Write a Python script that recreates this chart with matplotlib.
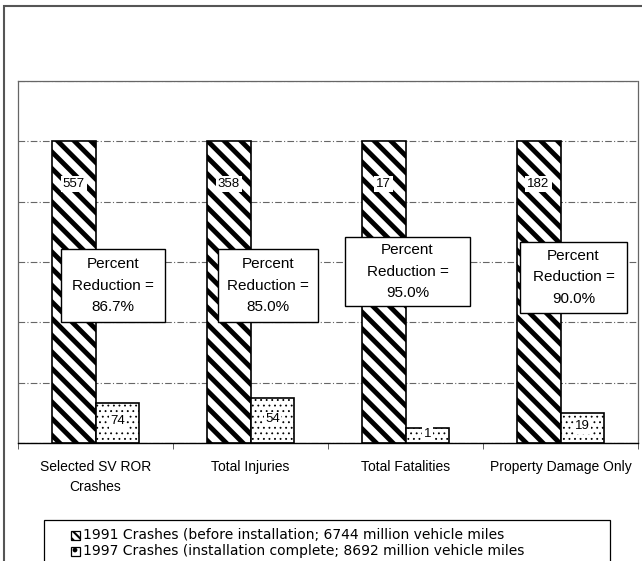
import matplotlib.pyplot as plt
from matplotlib.patches import Rectangle
import numpy as np

plt.rcParams['font.family'] = ['Liberation Sans', 'DejaVu Sans']

categories = ["Selected SV ROR\nCrashes", "Total Injuries", "Total Fatalities", "Property Damage Only"]
crashes_1991 = [557, 358, 17, 182]
crashes_1997 = [74, 54, 1, 19]
reduction_pct = [86.7, 85.0, 95.0, 90.0]
# bars are shown relative to 1991 (=100), adjusted for vehicle miles
index_1991 = [100, 100, 100, 100]
index_1997 = [100 - r for r in reduction_pct]

legend_labels = ["1991 Crashes (before installation; 6744 million vehicle miles",
                 "1997 Crashes (installation complete; 8692 million vehicle miles"]

# "Percent Reduction" text boxes: centre x, centre y, width, height (data coords)
box_cx = [0.113, 1.113, 2.013, 3.084]
box_cy = [52.2, 52.2, 56.8, 54.9]
box_w = [0.671, 0.645, 0.806, 0.69]
box_h = [23.9, 23.9, 22.9, 23.5]

W, H = 642, 561
fig = plt.figure(figsize=(W / 100, H / 100), dpi=100)

# outer frame of the chart
fig.patches.append(Rectangle((4 / W, -0.05), 1.1, 1 - 6 / H + 0.05, transform=fig.transFigure,
                             fill=False, edgecolor='#555555', linewidth=1.5))

ax = fig.add_axes([18 / W, 1 - 443 / H, 620 / W, 362 / H])

x = np.arange(len(categories))
bw = 0.283

with plt.rc_context({'hatch.linewidth': 3.5}):
    b1 = ax.bar(x - bw / 2, index_1991, bw, color='white', edgecolor='black', hatch='\\\\', linewidth=1.2)
with plt.rc_context({'hatch.linewidth': 0.6}):
    b2 = ax.bar(x + bw / 2, index_1997, bw, color='white', edgecolor='black', hatch='...', linewidth=1.2)

for i in range(len(categories)):
    ax.text(x[i] - bw / 2, 85.8, str(crashes_1991[i]), ha='center', va='center', fontsize=9.5,
            bbox=dict(boxstyle='square,pad=0.15', fc='white', ec='none'), zorder=5)
    ax.text(x[i] + bw / 2, index_1997[i] / 2 + 0.5, str(crashes_1997[i]), ha='center', va='center',
            fontsize=9.5, bbox=dict(boxstyle='square,pad=0.1', fc='white', ec='none'), zorder=5)
    ax.add_patch(Rectangle((box_cx[i] - box_w[i] / 2, box_cy[i] - box_h[i] / 2), box_w[i], box_h[i],
                           facecolor='white', edgecolor='black', linewidth=1.0, zorder=6))
    ax.text(box_cx[i], box_cy[i], "Percent\nReduction =\n%.1f%%" % reduction_pct[i], ha='center',
            va='center', fontsize=11, linespacing=1.7, zorder=7)

ax.set_xlim(-0.5, 3.5)
ax.set_ylim(0, 120)
ax.set_yticks([0, 20, 40, 60, 80, 100, 120])
ax.yaxis.grid(True, color='#666666', linestyle=(0, (6, 2, 1, 2)), linewidth=0.8)
ax.set_axisbelow(True)
ax.tick_params(axis='y', left=False, labelleft=False)
ax.set_xticks(x)
ax.set_xticklabels(categories, fontsize=10, linespacing=1.6)
ax.set_xticks(np.arange(-0.5, 4, 1), minor=True)
ax.tick_params(axis='x', which='major', length=0, pad=12)
ax.tick_params(axis='x', which='minor', length=4, direction='out', color='#444444')
for s in ['top', 'right', 'left']:
    ax.spines[s].set_linestyle((0, (3, 1)))
    ax.spines[s].set_color('#666666')
    ax.spines[s].set_linewidth(0.9)
ax.spines['bottom'].set_color('black')
ax.spines['bottom'].set_linewidth(1.0)

# legend box, drawn by hand so the tight line spacing matches
fig.patches.append(Rectangle((44 / W, -0.05), (610 - 44) / W, 1 - 520 / H + 0.05,
                             transform=fig.transFigure, fill=False, edgecolor='black', linewidth=0.9))
leg_y = [535, 551]
leg_hatch = ['\\\\\\\\', '.']
for j in range(2):
    with plt.rc_context({'hatch.linewidth': 1.5 if j == 0 else 1.0}):
        fig.patches.append(Rectangle((71 / W, 1 - (leg_y[j] + 4.5) / H), 9 / W, 9 / H,
                                     transform=fig.transFigure, facecolor='white',
                                     edgecolor='black', hatch=leg_hatch[j], linewidth=0.9))
    fig.text(83 / W, 1 - leg_y[j] / H, legend_labels[j], ha='left', va='center',
             fontsize=10, family='DejaVu Sans')

fig.savefig("out.png", dpi=100)
